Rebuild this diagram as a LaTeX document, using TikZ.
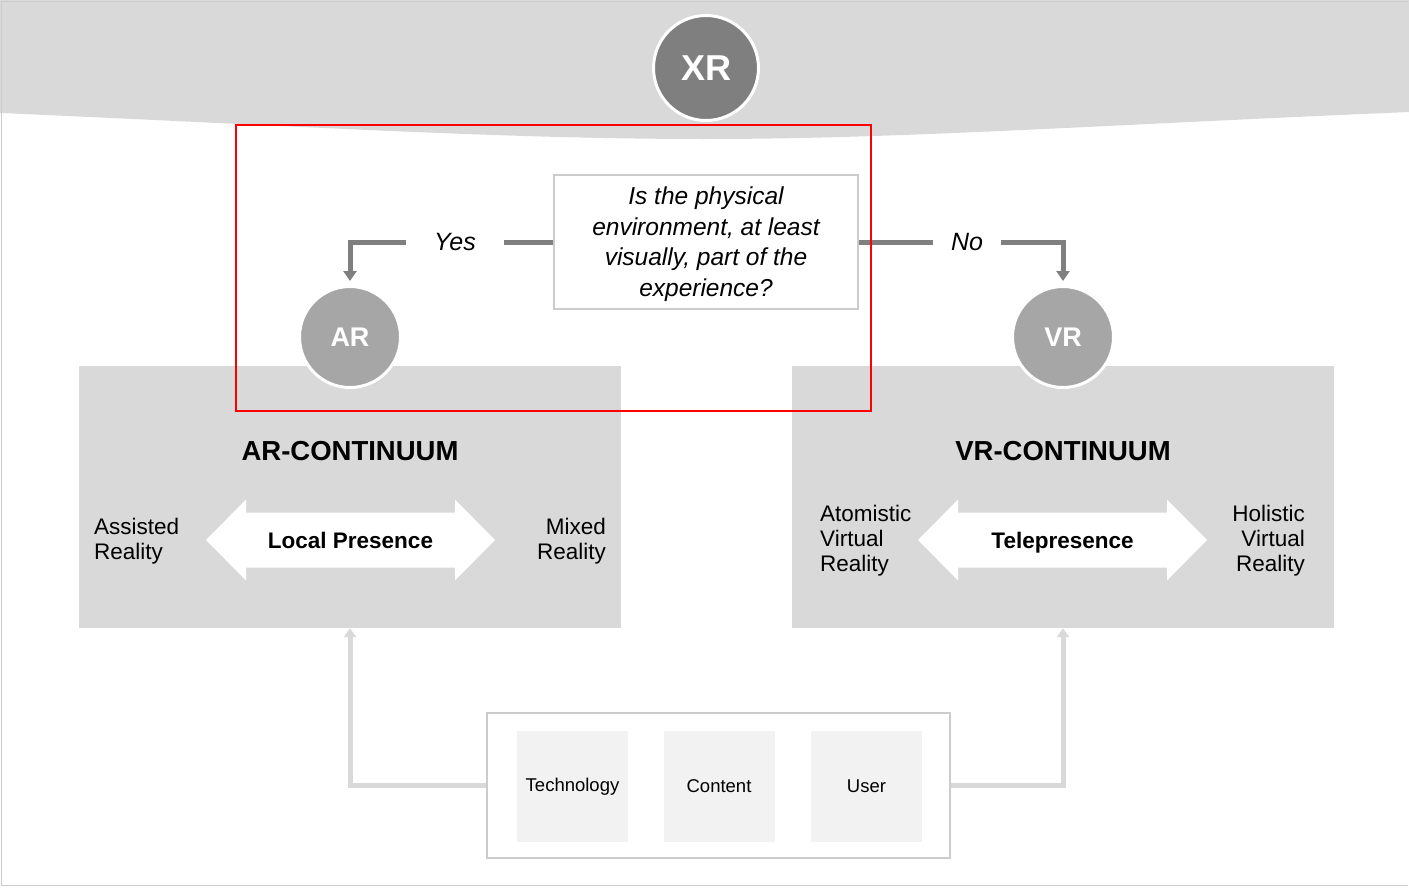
\documentclass[tikz,border=0pt]{standalone}
\usepackage{fontspec}
\setmainfont{Liberation Sans}
\usepackage{tikz}
\usetikzlibrary{arrows.meta,positioning,calc}
\definecolor{bandgray}{HTML}{D9D9D9}
\definecolor{darkgray}{HTML}{7F7F7F}
\definecolor{midgray}{HTML}{A6A6A6}
\definecolor{palegray}{HTML}{F2F2F2}
\definecolor{rulegray}{HTML}{CCCCCC}
\tikzstyle{bubble}=[circle,draw=white,line width=3pt,text=white,inner sep=0pt]
\tikzstyle{panel}=[fill=bandgray,minimum width=542pt,minimum height=262pt,inner sep=0pt]
\tikzstyle{heading}=[font=\fontsize{27.5}{30}\selectfont\bfseries]
\tikzstyle{pole}=[font=\fontsize{22.5}{25}\selectfont,inner sep=0pt]
\tikzstyle{presence}=[font=\fontsize{22.5}{25}\selectfont\bfseries,inner sep=0pt,anchor=base]
\tikzstyle{factor}=[fill=palegray,minimum size=111pt,inner sep=0pt,font=\fontsize{18.5}{22}\selectfont]
\tikzstyle{decision}=[draw=darkgray,line width=5pt]
\tikzstyle{answer}=[inner sep=0pt,font=\fontsize{25}{27}\selectfont\itshape]
\tikzstyle{feedback}=[draw=bandgray,line width=5pt,-{Triangle[width=12pt,length=9pt]}]

\begin{document}
\begin{tikzpicture}[x=1pt,y=-1pt]
\useasboundingbox (0,0) rectangle (1409,887);
% top band and frame
\fill[bandgray] (0,0) -- (1409,0) -- (1409,112) .. controls (1100,125) and (900,139) .. (706,139)
  .. controls (500,139) and (300,126) .. (0,113) -- cycle;
\draw[rulegray,line width=1.5pt] (1408,1.5) -- (1.5,1.5) -- (1.5,885.5) -- (1408,885.5);

% continuum panels
\node [panel] (arbox) at (350,497) {};
\node [panel] (vrbox) at (1063,497) {};

% circles
\node [bubble,fill=darkgray,minimum size=105pt,font=\fontsize{36}{40}\selectfont\bfseries] (xr) at (706,68) {XR};
\node [bubble,fill=midgray,minimum size=101pt,font=\fontsize{27}{30}\selectfont\bfseries] (ar) at (350,337) {AR};
\node [bubble,fill=midgray,minimum size=101pt,font=\fontsize{27}{30}\selectfont\bfseries] (vr) at (1063,337) {VR};

% question
\node [draw=rulegray,line width=1.5pt,fill=white,minimum width=304pt,minimum height=134pt] (q) at (706,242) {};
\node [align=center,inner sep=0pt,font=\fontsize{24.5}{30.5}\selectfont\itshape] (qtext) at (706,244)
  {Is the physical\\environment, at least\\visually, part of the\\experience?};
\node [answer,minimum width=98pt] (yes) at (455,242) {Yes};
\node [answer,minimum width=68pt] (no) at (967,242) {No};
\draw[decision] (q.west) -- (yes.east);
\draw[decision,-{Triangle[width=13pt,length=10pt]},shorten >=4pt] (yes.west) -| (ar.north);
\draw[decision] (q.east) -- (no.west);
\draw[decision,-{Triangle[width=13pt,length=10pt]},shorten >=4pt] (no.east) -| (vr.north);

% AR continuum
\node [heading] (artitle) at (350,451) {AR-CONTINUUM};
\coordinate (arc) at (350.5,540);
\fill[white] (arc) ++(-144.5,0) -- ++(40,-40.5) -- ++(0,13) -- ++(209,0) -- ++(0,-13) -- ++(40,40.5)
  -- ++(-40,40.5) -- ++(0,-13) -- ++(-209,0) -- ++(0,13) -- cycle;
\node [presence] (local) at (350.5,548) {Local Presence};
\node [pole,anchor=west,align=left] (assisted) at (94,541) {Assisted\\Reality};
\node [pole,anchor=east,align=right] (mixed) at (606,541) {Mixed\\Reality};

% VR continuum
\node [heading] (vrtitle) at (1063,451) {VR-CONTINUUM};
\coordinate (vrc) at (1062.5,540);
\fill[white] (vrc) ++(-144.5,0) -- ++(40,-40.5) -- ++(0,13) -- ++(209,0) -- ++(0,-13) -- ++(40,40.5)
  -- ++(-40,40.5) -- ++(0,-13) -- ++(-209,0) -- ++(0,13) -- cycle;
\node [presence] (tele) at (1062.5,548) {Telepresence};
\node [pole,anchor=west,align=left] (atomistic) at (820,541) {Atomistic\\Virtual\\Reality};
\node [pole,anchor=east,align=right] (holistic) at (1305,541) {Holistic\\Virtual\\Reality};

% drivers
\node [draw=rulegray,line width=1.5pt,fill=white,minimum width=463pt,minimum height=145pt] (drivers) at (718.5,785.5) {};
\node [factor] (tech) at (572.5,786.5) {Technology};
\node [factor] (content) at (719,786.5) {Content};
\node [factor] (user) at (866.5,786.5) {User};
\draw[feedback] (drivers.west) -| (arbox.south);
\draw[feedback] (drivers.east) -| (vrbox.south);

% highlight
\draw[red,line width=2pt] (236,125) rectangle (871,411);
\end{tikzpicture}
\end{document}
